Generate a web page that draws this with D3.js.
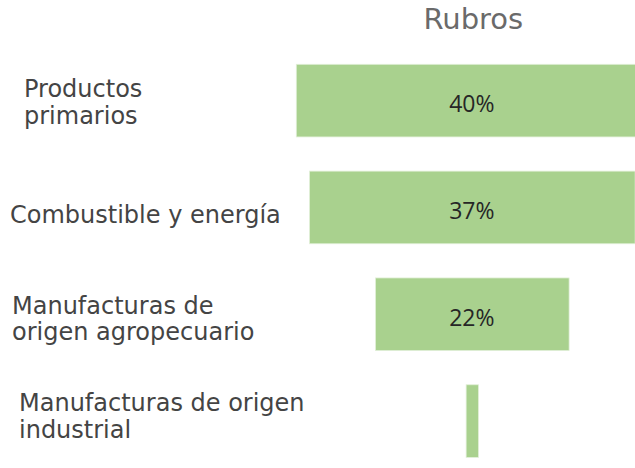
<!DOCTYPE html>
<html>
<head>
<meta charset="utf-8">
<script src="https://cdn.jsdelivr.net/npm/d3@7"></script>
<style>
  html, body { margin: 0; padding: 0; background: #fff; }
  svg { display: block; }
</style>
</head>
<body>
<svg id="chart" width="635" height="468"></svg>
<script>
// Export composition by category (share of total, %)
const categories = [
  "Productos primarios",
  "Combustible y energía",
  "Manufacturas de origen agropecuario",
  "Manufacturas de origen industrial"
];
const values = [40, 37, 22, 1.4];
const valueLabels = ["40%", "37%", "22%", ""];
// How each category name is broken into lines
const labelLines = [
  ["Productos", "primarios"],
  ["Combustible y energía"],
  ["Manufacturas de", "origen agropecuario"],
  ["Manufacturas de origen", "industrial"]
];
const title = "Rubros";

// Layout
const W = 635, H = 468;
const centerX = 472.3;
const labelX = [24, 10, 12, 19];       // left edge of each category label
const labelDy = [-3.8, 16, -0.7, -10]; // first baseline offset from band centre
const lineH = 26.8;

const svg = d3.select("#chart");

const y = d3.scaleBand()
  .domain(categories)
  .range([64.3, 457.4])
  .paddingInner(0.32)
  .paddingOuter(0);

const w = d3.scaleLinear().domain([0, 40]).range([0, 352]);

// Title
svg.append("text")
  .attr("x", centerX + 1)
  .attr("y", 29.3)
  .attr("text-anchor", "middle")
  .attr("font-family", "DejaVu Sans")
  .attr("font-size", 29)
  .attr("fill", "#6a6a6a")
  .text(title);

// Funnel bars, centred on a common axis
svg.append("g").selectAll("rect")
  .data(categories)
  .join("rect")
  .attr("x", (d, i) => centerX - w(values[i]) / 2)
  .attr("y", d => y(d))
  .attr("width", (d, i) => w(values[i]))
  .attr("height", y.bandwidth())
  .attr("fill", "#a9d18e")
  .attr("stroke", "#e2efd9")
  .attr("stroke-width", 0.8);

// Value labels inside bars
svg.append("g").selectAll("text")
  .data(categories)
  .join("text")
  .attr("x", centerX - 0.5)
  .attr("y", d => y(d) + y.bandwidth() / 2 + 11.5)
  .attr("text-anchor", "middle")
  .attr("font-family", "Open Sans")
  .attr("font-size", 23)
  .attr("fill", "#262626")
  .text((d, i) => valueLabels[i]);

// Category labels on the left
const lab = svg.append("g").selectAll("text")
  .data(categories)
  .join("text")
  .attr("font-family", "DejaVu Sans")
  .attr("font-size", 24)
  .attr("fill", "#444444")
  .attr("x", (d, i) => labelX[i])
  .attr("y", (d, i) => y(d) + y.bandwidth() / 2 + labelDy[i]);

lab.selectAll("tspan")
  .data((d, i) => labelLines[i].map(t => ({ t, i })))
  .join("tspan")
  .attr("x", d => labelX[d.i])
  .attr("dy", (d, j) => j === 0 ? 0 : lineH)
  .text(d => d.t);
</script>
</body>
</html>
